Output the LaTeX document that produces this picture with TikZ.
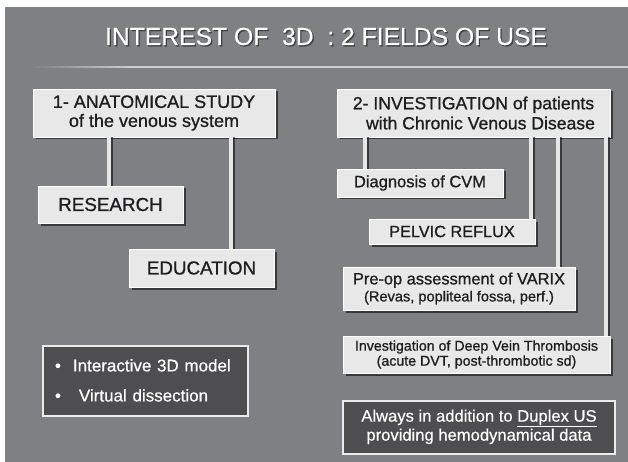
\documentclass[tikz,border=0pt]{standalone}
\usepackage{fontspec}
\setmainfont{Liberation Sans}
\newfontfamily\boxfont{Liberation Sans}[FakeBold=0.9]
\newfontfamily\panelfont{Liberation Sans}[FakeBold=0.5]
\usetikzlibrary{shadows,calc}

\definecolor{slidebg}{RGB}{127,128,131}
\definecolor{boxfill}{RGB}{232,232,232}
\definecolor{boxtext}{RGB}{30,30,32}
\definecolor{darkfill}{RGB}{78,78,81}
\definecolor{linkcol}{RGB}{230,230,230}
\definecolor{rulecol}{RGB}{205,205,207}

% white lettering with a small dark drop shadow
\newcommand\shtext[2][black!70]{\leavevmode\rlap{\kern1.3pt\raisebox{-1.3pt}{\textcolor{#1}{#2}}}#2}

\tikzset{
  lightbox/.style={draw=white, line width=0.8pt, fill=boxfill, text=boxtext,
    inner sep=0pt, align=center,
    drop shadow={shadow xshift=2.5pt, shadow yshift=-2.5pt, fill=black, opacity=0.55}},
  darkbox/.style={draw=white!92!black, line width=1.8pt, fill=darkfill,
    text=white, inner sep=0pt},
  link/.style={draw=linkcol, line width=3.6pt},
  linkshade/.style={draw=black, line width=2.4pt, opacity=0.55},
}

\begin{document}
\begin{tikzpicture}[x=1pt,y=-1pt]
  \useasboundingbox (0,0) rectangle (628,462);
  \fill[white] (0,0) rectangle (628,462);
  \fill[slidebg] (5,7) rectangle (628,462);

  % title and rule
  \node[anchor=base, text=white, inner sep=0pt,
        font=\panelfont\fontsize{24.7}{28}\selectfont] (title) at (326,45)
    {\shtext[black!75]{INTEREST OF\ \ 3D\ \ : 2 FIELDS OF USE}};
  \shade[left color=slidebg, right color=rulecol] (30,66.3) rectangle (130,67.7);
  \fill[rulecol] (130,66.3) rectangle (628,67.7);

  % left branch
  \node[lightbox, minimum width=242pt, minimum height=48pt,
        font=\boxfont\fontsize{18}{19}\selectfont] (anat) at (154,113)
    {1- ANATOMICAL STUDY\\of the venous system};
  \node[lightbox, minimum width=145pt, minimum height=37pt,
        font=\boxfont\fontsize{18.8}{20}\selectfont] (research) at (110.5,204.5) {RESEARCH};
  \node[lightbox, minimum width=145pt, minimum height=38pt,
        font=\boxfont\fontsize{18.8}{20}\selectfont] (educ) at (201.5,268) {EDUCATION};

  % right branch
  \node[lightbox, minimum width=273pt, minimum height=48pt,
        font=\boxfont\fontsize{17.6}{20}\selectfont] (invest) at (473.5,113)
    {2- INVESTIGATION of patients\\\hspace*{14pt}with Chronic Venous Disease};
  \node[lightbox, minimum width=166pt, minimum height=28pt,
        font=\boxfont\fontsize{16.5}{18}\selectfont] (diag) at (420,183) {Diagnosis of CVM};
  \node[lightbox, minimum width=166pt, minimum height=25pt,
        font=\boxfont\fontsize{16.3}{18}\selectfont] (pelvic) at (452,231.5) {PELVIC REFLUX};
  \node[lightbox, minimum width=232pt, minimum height=43pt,
        font=\boxfont\fontsize{16.4}{17}\selectfont] (preop) at (459,288.5)
    {Pre-op assessment of VARIX\\{\fontsize{14.6}{17}\selectfont (Revas, popliteal fossa, perf.)}};
  \node[lightbox, minimum width=267pt, minimum height=37pt,
        font=\boxfont\fontsize{14.2}{15}\selectfont] (dvt) at (476.5,354.5)
    {Investigation of Deep Vein Thrombosis\\(acute DVT, post-thrombotic sd)};

  % dark panels
  \node[darkbox, minimum width=205pt, minimum height=70pt, align=left,
        text width=181pt, font=\panelfont\fontsize{17}{30}\selectfont] (feat) at (145.5,381)
    {\shtext{\textbullet\hspace{12pt}Interactive 3D model}\\
     \shtext{\textbullet\hspace{18pt}Virtual dissection}};
  \node[darkbox, minimum width=272pt, minimum height=53pt, align=center,
        font=\panelfont\fontsize{16.6}{19}\selectfont] (note) at (479,427.5)
    {\shtext{Always in addition to \underline{Duplex US}}\\
     \shtext{providing hemodynamical data}};

  % connector feet
  \coordinate (cR) at ([xshift=-1.5pt]research.north);
  \coordinate (cE) at ([xshift=29.5pt]educ.north);
  \coordinate (cD) at ([xshift=-55pt]diag.north);
  \coordinate (cP) at ([xshift=79pt]pelvic.north);
  \coordinate (cV) at ([xshift=99pt]preop.north);
  \coordinate (cT) at ([xshift=129.5pt]dvt.north);

  % connector shading
  \draw[linkshade] ([xshift=2.4pt]cR) -- ([xshift=2.4pt]cR |- anat.south);
  \draw[linkshade] ([xshift=2.4pt]cE) -- ([xshift=2.4pt]cE |- anat.south);
  \draw[linkshade] ([xshift=2.4pt]cD) -- ([xshift=2.4pt]cD |- invest.south);
  \draw[linkshade] ([xshift=2.4pt]cP) -- ([xshift=2.4pt]cP |- invest.south);
  \draw[linkshade] ([xshift=2.4pt]cV) -- ([xshift=2.4pt]cV |- invest.south);
  \draw[linkshade] ([xshift=2.4pt]cT) -- ([xshift=2.4pt]cT |- invest.south);

  % connectors
  \draw[link] (cR) -- (cR |- anat.south);
  \draw[link] (cE) -- (cE |- anat.south);
  \draw[link] (cD) -- (cD |- invest.south);
  \draw[link] (cP) -- (cP |- invest.south);
  \draw[link] (cV) -- (cV |- invest.south);
  \draw[link] (cT) -- (cT |- invest.south);
\end{tikzpicture}
\end{document}
